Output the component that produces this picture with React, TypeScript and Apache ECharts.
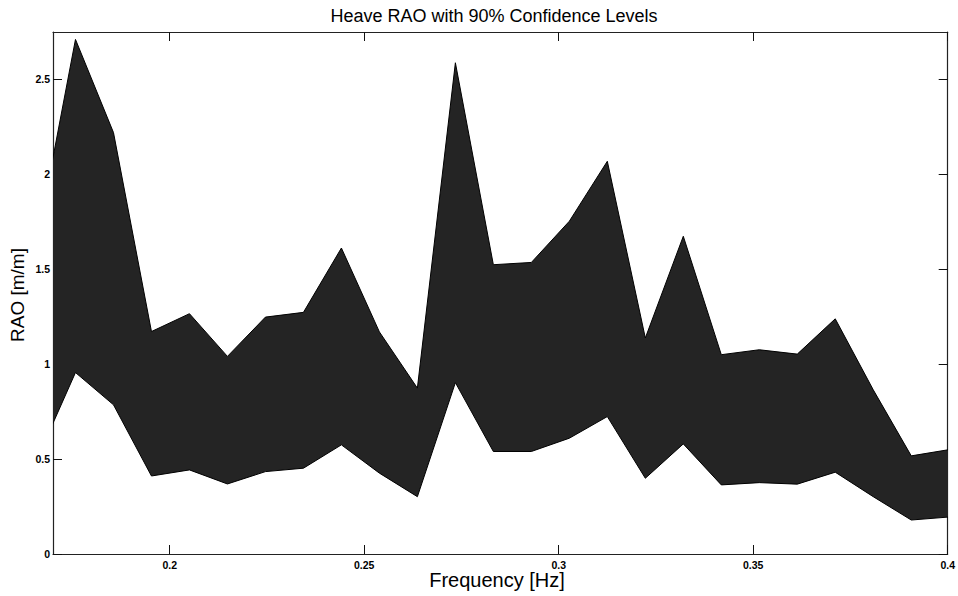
import React, { useEffect, useRef } from "react";
import * as echarts from "echarts";

// Frequency bins [Hz]
const freq = [
  0.16602, 0.17578, 0.18555, 0.19531, 0.20508, 0.21484, 0.22461, 0.23438,
  0.24414, 0.25391, 0.26367, 0.27344, 0.2832, 0.29297, 0.30273, 0.3125,
  0.32227, 0.33203, 0.3418, 0.35156, 0.36133, 0.37109, 0.38086, 0.39063,
  0.40039,
];

// Upper 90% confidence level of heave RAO [m/m]
const upper = [
  1.66, 2.711, 2.22, 1.172, 1.266, 1.041, 1.248, 1.273, 1.612, 1.17, 0.874,
  2.588, 1.524, 1.536, 1.753, 2.069, 1.138, 1.674, 1.05, 1.076, 1.053, 1.239,
  0.865, 0.517, 0.55,
];

// Lower 90% confidence level of heave RAO [m/m]
const lower = [
  0.505, 0.956, 0.786, 0.411, 0.443, 0.369, 0.434, 0.452, 0.575, 0.426, 0.302,
  0.903, 0.54, 0.54, 0.61, 0.724, 0.399, 0.58, 0.364, 0.376, 0.368, 0.431,
  0.302, 0.179, 0.195,
];

const xTicks = [0.2, 0.25, 0.3, 0.35, 0.4];
const yTicks = [0, 0.5, 1, 1.5, 2, 2.5];

const titleText = "Heave RAO with 90% Confidence Levels";
const xTitle = "Frequency [Hz]";
const yTitle = "RAO [m/m]";

export default function App() {
  const ref = useRef<HTMLDivElement>(null);

  useEffect(() => {
    if (!ref.current) return;
    const chart = echarts.init(ref.current, null, { renderer: "svg" });
    const font = "'Liberation Sans', Arial, Helvetica, sans-serif";
    const labelStyle = {
      color: "#000",
      fontSize: 10.5,
      fontWeight: "bold" as const,
      fontFamily: font,
    };
    const lineStyle = { color: "#222", width: 1.2 };
    const tickBase = {
      show: true,
      inside: true,
      length: 9,
      lineStyle: { color: "#111", width: 1 },
    };

    chart.setOption({
      animation: false,
      backgroundColor: "#fff",
      grid: { left: 53, right: 7, top: 32, bottom: 42 },
      xAxis: [
        {
          type: "value",
          min: 0.17,
          max: 0.4,
          position: "bottom",
          axisLine: { show: true, onZero: false, lineStyle },
          axisTick: { ...tickBase, customValues: xTicks },
          axisLabel: { ...labelStyle, margin: 5, customValues: xTicks },
          splitLine: { show: false },
        },
        {
          type: "value",
          min: 0.17,
          max: 0.4,
          position: "top",
          axisLine: { show: true, onZero: false, lineStyle },
          axisTick: { ...tickBase, customValues: xTicks },
          axisLabel: { show: false },
          splitLine: { show: false },
        },
      ],
      yAxis: [
        {
          type: "value",
          min: 0,
          max: 2.75,
          position: "left",
          axisLine: { show: true, onZero: false, lineStyle },
          axisTick: { ...tickBase, customValues: yTicks },
          axisLabel: { ...labelStyle, margin: 3, customValues: yTicks },
          splitLine: { show: false },
        },
        {
          type: "value",
          min: 0,
          max: 2.75,
          position: "right",
          axisLine: { show: true, onZero: false, lineStyle },
          axisTick: { ...tickBase, customValues: yTicks },
          axisLabel: { show: false },
          splitLine: { show: false },
        },
      ],
      graphic: [
        {
          type: "text",
          x: 494,
          y: 16,
          style: {
            text: titleText,
            fontSize: 18,
            fontFamily: font,
            fill: "#000",
            align: "center",
            verticalAlign: "middle",
          },
        },
        {
          type: "text",
          x: 497,
          y: 580,
          style: {
            text: xTitle,
            fontSize: 20,
            fontFamily: font,
            fill: "#000",
            align: "center",
            verticalAlign: "middle",
          },
        },
        {
          type: "text",
          x: 17,
          y: 295,
          rotation: Math.PI / 2,
          style: {
            text: yTitle,
            fontSize: 19,
            fontFamily: font,
            fill: "#000",
            align: "center",
            verticalAlign: "middle",
          },
        },
      ],
      series: [
        {
          type: "custom",
          name: "90% confidence band",
          coordinateSystem: "cartesian2d",
          xAxisIndex: 0,
          yAxisIndex: 0,
          clip: true,
          data: [[freq[0], lower[0]]],
          renderItem: (params: any, api: any) => {
            if (params.dataIndex !== 0) return null;
            const pts: number[][] = [];
            for (let i = 0; i < freq.length; i++) {
              pts.push(api.coord([freq[i], upper[i]]));
            }
            for (let i = freq.length - 1; i >= 0; i--) {
              pts.push(api.coord([freq[i], lower[i]]));
            }
            return {
              type: "polygon",
              shape: { points: pts },
              style: {
                fill: "#242424",
                stroke: "#000",
                lineWidth: 1,
              },
            };
          },
        },
      ],
    });

    return () => chart.dispose();
  }, []);

  return (
    <div
      ref={ref}
      style={{
        position: "fixed",
        left: 0,
        top: 0,
        width: 958,
        height: 596,
        background: "#fff",
      }}
    />
  );
}
